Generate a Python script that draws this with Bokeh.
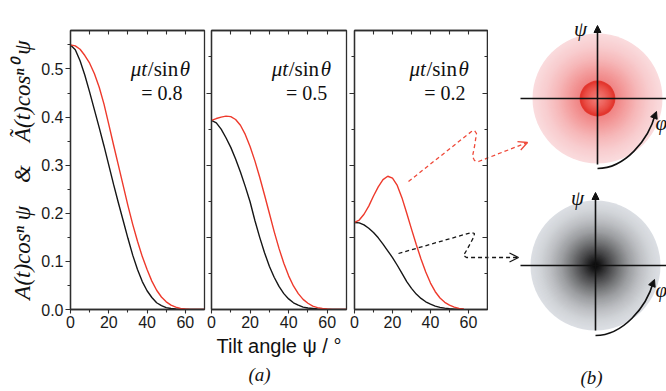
import numpy as np
from bokeh.plotting import figure
from bokeh.layouts import row
from bokeh.models import (Range1d, LinearAxis, FixedTicker, NumeralTickFormatter,
                          Title, Arrow, OpenHead, NormalHead)
from bokeh.core.properties import value
from bokeh.embed import file_html
from bokeh.resources import INLINE

# ---------------- data ----------------
angle = [0, 2.5, 5, 7.5, 10, 12.5, 15, 17.5, 20, 22.5, 25, 27.5, 30, 32.5, 35,
         37.5, 40, 42.5, 45, 47.5, 50, 52.5, 55, 57.5, 60, 62.5, 65, 67.5, 70]
angle_short = [0, 2.5, 5, 7.5, 10, 12.5, 15, 17.5, 20, 22.5, 25, 27.5, 30, 32.5,
               35, 37.5, 40, 42.5, 45, 47.5, 50, 52.5, 55, 57.5]

# mu t / sin(theta) = 0.8
black_08 = [0.550, 0.540, 0.517, 0.487, 0.452, 0.415, 0.378, 0.340, 0.300, 0.260,
            0.222, 0.185, 0.148, 0.113, 0.083, 0.058, 0.039, 0.025, 0.014, 0.008,
            0.004, 0.002, 0.001, 0.0004, 0, 0, 0, 0, 0]
red_08 = [0.550, 0.548, 0.541, 0.528, 0.512, 0.490, 0.462, 0.427, 0.385, 0.342,
          0.300, 0.258, 0.216, 0.177, 0.142, 0.110, 0.083, 0.059, 0.040, 0.026,
          0.016, 0.009, 0.005, 0.002, 0.001, 0.0003, 0, 0, 0]
# mu t / sin(theta) = 0.5
black_05 = [0.393, 0.388, 0.375, 0.357, 0.337, 0.313, 0.286, 0.256, 0.224, 0.185,
            0.150, 0.118, 0.090, 0.067, 0.048, 0.033, 0.022, 0.014, 0.009, 0.005,
            0.003, 0.002, 0.001, 0.0004, 0.0001, 0, 0, 0, 0]
red_05 = [0.393, 0.397, 0.400, 0.402, 0.401, 0.395, 0.383, 0.364, 0.339, 0.309,
          0.275, 0.238, 0.200, 0.162, 0.127, 0.096, 0.070, 0.049, 0.033, 0.021,
          0.013, 0.007, 0.004, 0.002, 0.001, 0.0003, 0, 0, 0]
# mu t / sin(theta) = 0.2
black_02 = [0.181, 0.180, 0.176, 0.169, 0.160, 0.149, 0.136, 0.122, 0.108, 0.092,
            0.075, 0.058, 0.044, 0.032, 0.023, 0.016, 0.011, 0.007, 0.0045, 0.0028,
            0.0016, 0.0008, 0.0004, 0.0001]
red_02 = [0.181, 0.186, 0.198, 0.215, 0.236, 0.255, 0.270, 0.277, 0.273, 0.258,
          0.232, 0.200, 0.167, 0.135, 0.105, 0.078, 0.055, 0.037, 0.024, 0.015,
          0.009, 0.005, 0.002, 0.001]

panel_labels = ["= 0.8", "= 0.5", "= 0.2"]
x_ticks = [0, 20, 40, 60]
x_minor = [10, 30, 50]
top_ticks = [10, 20, 30, 40, 50, 60]
y_ticks = [0.0, 0.1, 0.2, 0.3, 0.4, 0.5]
y_minor = [0.05, 0.15, 0.25, 0.35, 0.45, 0.55]
y_ticks_b = [0.15, 0.30, 0.45]
y_minor_b = [0.075, 0.225, 0.375, 0.525]

RED = "#ee3a2c"
BLACK = "#161616"
FRAME = "#2e2e2e"
H = 391
XMAX, YMAX = 70, 0.58
NB = "\u00a0"


def style_axis(ax, tin, tout, min_in, min_out, labels=True):
    ax.axis_line_color = FRAME
    ax.axis_line_width = 1.3
    ax.major_tick_line_color = FRAME
    ax.minor_tick_line_color = FRAME
    ax.major_tick_line_width = 1.1
    ax.minor_tick_line_width = 1.1
    ax.major_tick_in = tin
    ax.major_tick_out = tout
    ax.minor_tick_in = min_in
    ax.minor_tick_out = min_out
    if labels:
        ax.major_label_text_font = "Liberation Sans"
        ax.major_label_text_font_size = "16px"
        ax.major_label_text_color = "#1a1a1a"
        ax.major_label_standoff = 2
    else:
        ax.major_label_text_font_size = "0px"
        ax.major_label_text_alpha = 0
        ax.major_label_standoff = 0


def panel(width, bl, br, first=False, right_ticks=False):
    p = figure(width=width, height=H, x_range=Range1d(0, XMAX), y_range=Range1d(0, YMAX),
               x_axis_type=None, y_axis_type=None, output_backend="svg",
               toolbar_location=None, min_border_left=bl, min_border_right=br,
               min_border_top=30, min_border_bottom=82)
    p.outline_line_color = FRAME
    p.outline_line_width = 1.3
    p.background_fill_color = "white"
    p.border_fill_color = "white"

    xa = LinearAxis(ticker=FixedTicker(ticks=x_ticks, minor_ticks=x_minor))
    style_axis(xa, 0, 4, 0, 3)
    p.add_layout(xa, "below")

    ta = LinearAxis(ticker=FixedTicker(ticks=top_ticks, minor_ticks=[]))
    style_axis(ta, 4, 0, 0, 0, labels=False)
    p.add_layout(ta, "above")

    if first:
        ya = LinearAxis(ticker=FixedTicker(ticks=y_ticks, minor_ticks=y_minor),
                        formatter=NumeralTickFormatter(format="0.0"))
        style_axis(ya, 0, 5, 0, 3)
        ya.axis_label = ("A(t)cosⁿ" + NB + "ψ" + NB * 4 + "&" + NB * 4 +
                         "Ã(t)cosⁿ⁰" + NB + "ψ")
        ya.axis_label_text_font = "Liberation Serif"
        ya.axis_label_text_font_style = "italic"
        ya.axis_label_text_font_size = "23px"
        ya.axis_label_text_color = "#111111"
        ya.axis_label_standoff = 3
    else:
        ya = LinearAxis(ticker=FixedTicker(ticks=y_ticks_b, minor_ticks=y_minor_b))
        style_axis(ya, 0, 5, 0, 3, labels=False)
    p.add_layout(ya, "left")

    if right_ticks:
        ra = LinearAxis(ticker=FixedTicker(ticks=y_ticks_b, minor_ticks=y_minor_b))
        style_axis(ra, 5, 0, 3, 0, labels=False)
        p.add_layout(ra, "right")
    return p


def annotate(p, label, x1, x2):
    common = dict(text_font=value("Liberation Serif"), text_font_size="21px",
                  text_align="right", text_baseline="alphabetic", text_color="#111111")
    p.text(x=[x1], y=[0.50], text=["θ"], text_font_style="italic", **common)
    p.text(x=[x1], y=[0.50], text=["/sin"], x_offset=-12, **common)
    p.text(x=[x1], y=[0.50], text=["μt"], text_font_style="italic", x_offset=-43,
           **common)
    p.text(x=[x2], y=[0.45], text=[label], text_font=value("Liberation Serif"),
           text_font_size="20px", text_align="right", text_baseline="alphabetic",
           text_color="#111111")


p1 = panel(206, 70, 2, first=True)
p1.line(angle, black_08, line_color=BLACK, line_width=1.4)
p1.line(angle, red_08, line_color=RED, line_width=1.4)
annotate(p1, panel_labels[0], 62.5, 58.5)

p2 = panel(142, 5, 2)
p2.line(angle, black_05, line_color=BLACK, line_width=1.4)
p2.line(angle, red_05, line_color=RED, line_width=1.4)
annotate(p2, panel_labels[1], 62.0, 60.0)
p2.below[0].axis_label = "Tilt angle ψ / °"
p2.below[0].axis_label_text_font = "Liberation Sans"
p2.below[0].axis_label_text_font_style = "normal"
p2.below[0].axis_label_text_font_size = "20px"
p2.below[0].axis_label_text_color = "#111111"
p2.below[0].axis_label_standoff = 4
p2.add_layout(Title(text="(a)", align="left", offset=37, standoff=4,
                    text_font="Liberation Serif", text_font_style="italic",
                    text_font_size="19px", text_color="#111111"), "below")

p3 = panel(140, 6, 1, right_ticks=True)
p3.line(angle_short, black_02, line_color=BLACK, line_width=1.4)
p3.line(angle_short, red_02, line_color=RED, line_width=1.4)
annotate(p3, panel_labels[2], 60.2, 58.4)

# ---------------- dashed connector arrows (page-pixel geometry) ----------------
P3_X0, P3_X1, P3_Y0, P3_Y1 = 354, 487, 309, 30
red_path = [(408, 181), (471, 131), (474, 130), (476, 133), (474, 146), (472, 156),
            (474, 160), (478, 161), (527, 142)]
blk_path = [(398, 253), (471, 232), (474, 233), (473, 237), (466, 250), (463, 255),
            (466, 257), (518, 257)]


def to_p3(path):
    xs = [(px - P3_X0) / (P3_X1 - P3_X0) * XMAX for px, _ in path]
    ys = [(P3_Y0 - py) / (P3_Y0 - P3_Y1) * YMAX for _, py in path]
    return xs, ys


rx, ry = to_p3(red_path)
bx, by = to_p3(blk_path)
p3.line(rx, ry, line_color="#ef4a3a", line_width=1.3, line_dash="4 3")
p3.line(bx, by, line_color=BLACK, line_width=1.3, line_dash="4 3")

# ---------------- right-hand illustration (page-pixel coordinates) ----------------
d = figure(width=178, height=H, x_range=Range1d(488, 666), y_range=Range1d(391, 0),
           x_axis_type=None, y_axis_type=None, output_backend="svg",
           toolbar_location=None, min_border=0, min_border_left=0, min_border_right=0,
           min_border_top=0, min_border_bottom=0)
d.frame_align = False
d.outline_line_color = None
d.background_fill_color = "white"
d.border_fill_color = "white"

d.line([p[0] for p in red_path], [p[1] for p in red_path], line_color="#ef4a3a",
       line_width=1.3, line_dash="4 3")
d.line([p[0] for p in blk_path], [p[1] for p in blk_path], line_color=BLACK,
       line_width=1.3, line_dash="4 3")
d.add_layout(Arrow(end=OpenHead(size=9, line_color="#ef4a3a", line_width=1.3),
                   x_start=478, y_start=161, x_end=527, y_end=142, line_alpha=0))
d.add_layout(Arrow(end=OpenHead(size=9, line_color=BLACK, line_width=1.3),
                   x_start=466, y_start=257, x_end=518, y_end=257, line_alpha=0))


def mix(anchors_t, anchors_c, t):
    c = [np.interp(t, anchors_t, [a[i] for a in anchors_c]) for i in range(3)]
    return "#%02x%02x%02x" % tuple(int(round(v)) for v in c)


# red blob
rcx, rcy, R = 597, 98, 65
radii = np.linspace(R, 0.5, 90)
cols = []
for r in radii:
    if r > 18:
        cols.append(mix([18, 28, 40, 52, 65],
                        [(240, 132, 132), (243, 155, 155), (246, 183, 184),
                         (248, 204, 206), (250, 220, 222)], r))
    else:
        cols.append(mix([0, 8, 14, 17, 18],
                        [(242, 128, 122), (238, 100, 94), (232, 72, 64),
                         (226, 52, 44), (228, 60, 52)], r))
d.circle(x=[rcx] * len(radii), y=[rcy] * len(radii), radius=radii,
         fill_color=cols, line_color=None)

# grey blob
gcx, gcy = 595, 265
gcols = [mix([0, 6, 14, 24, 34, 46, 56, 65],
              [(5, 5, 5), (30, 30, 31), (70, 70, 72), (115, 116, 118),
               (155, 157, 160), (190, 192, 196), (210, 213, 217), (220, 223, 228)], r)
         for r in radii]
d.circle(x=[gcx] * len(radii), y=[gcy] * len(radii), radius=radii,
         fill_color=gcols, line_color=None)

# axes crosses
d.segment(x0=[520, 520], y0=[rcy, gcy], x1=[666, 666], y1=[rcy, gcy],
          line_color="#111111", line_width=1.6)
d.add_layout(Arrow(end=NormalHead(size=7, fill_color="#111111", line_color="#111111"),
                   x_start=rcx, y_start=164, x_end=rcx, y_end=25,
                   line_color="#111111", line_width=1.6))
d.add_layout(Arrow(end=NormalHead(size=7, fill_color="#111111", line_color="#111111"),
                   x_start=gcx, y_start=330, x_end=gcx, y_end=192,
                   line_color="#111111", line_width=1.6))

# curved phi arrows
d.bezier(x0=[597, 595], y0=[168, 335], x1=[655, 653], y1=[113, 281],
         cx0=[624, 622], cy0=[168, 335], cx1=[648, 646], cy1=[140, 307],
         line_color="#111111", line_width=1.6)
d.add_layout(Arrow(end=NormalHead(size=7, fill_color="#111111", line_color="#111111"),
                   x_start=652, y_start=121, x_end=656, y_end=111, line_alpha=0))
d.add_layout(Arrow(end=NormalHead(size=7, fill_color="#111111", line_color="#111111"),
                   x_start=650, y_start=289, x_end=654, y_end=279, line_alpha=0))

d.text(x=[580, 577], y=[28, 197], text=["ψ", "ψ"], text_font=value("Liberation Serif"),
       text_font_style="italic", text_font_size="21px", text_align="center",
       text_baseline="alphabetic", text_color="#111111")
d.text(x=[655, 655], y=[122, 289], text=["φ", "φ"], text_font=value("Liberation Serif"),
       text_font_style="italic", text_font_size="21px", text_align="left",
       text_baseline="alphabetic", text_color="#111111")
d.text(x=[591], y=[377], text=["(b)"], text_font=value("Liberation Serif"),
       text_font_style="italic", text_font_size="19px", text_align="center",
       text_baseline="middle", text_color="#111111")

layout = row(p1, p2, p3, d, spacing=0)
open("out.html", "w").write(file_html(layout, INLINE))
